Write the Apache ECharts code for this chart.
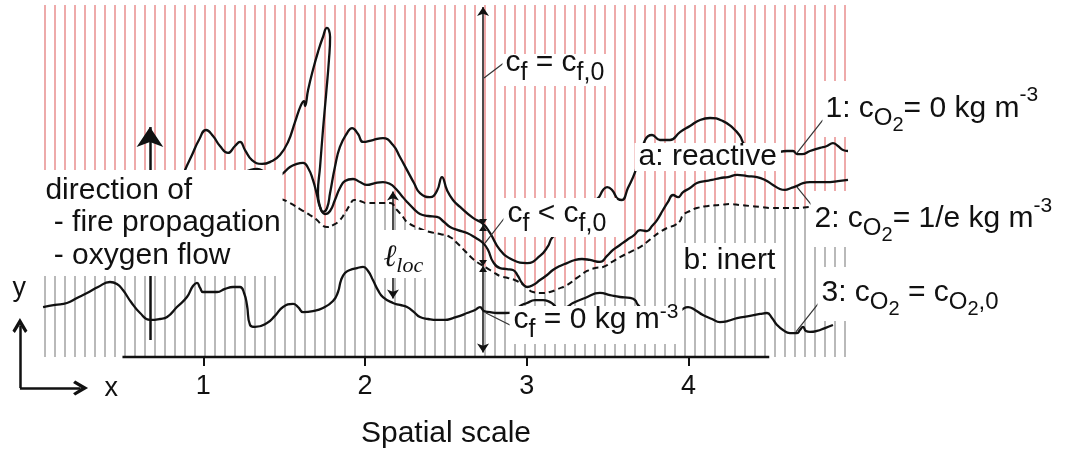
<!DOCTYPE html>
<html><head><meta charset="utf-8">
<script src="https://cdn.jsdelivr.net/npm/echarts@6/dist/echarts.min.js"></script>
<style>html,body{margin:0;padding:0;background:#fff}#c{width:1075px;height:454px}</style>
</head><body><div id="c"></div>
<script>
// ---------- data: x in spatial-scale units, y = height above the base line (same units) ----------
const xTicks = [1, 2, 3, 4];

// 1: c_O2 = 0 kg m-3 (upper, reactive front)
const frontReactive = [
[0.844,1.033],[0.887,1.156],[0.930,1.249],[0.973,1.342],[1.017,1.404],[1.060,1.367],[1.103,1.305],[1.153,1.262],[1.196,1.305],[1.227,1.330],[1.258,1.280],[1.301,1.218],[1.363,1.194],[1.425,1.212],[1.474,1.249],[1.524,1.330],[1.567,1.453],[1.604,1.558],[1.623,1.583],[1.629,1.552],[1.648,1.651],[1.678,1.775],[1.709,1.886],[1.740,1.979],[1.765,2.035],[1.777,2.022],[1.784,1.979],[1.777,1.837],[1.759,1.620],[1.740,1.404],[1.722,1.175],[1.709,1.014],[1.722,0.928],[1.740,0.897],[1.765,0.921],[1.784,1.014],[1.814,1.175],[1.845,1.299],[1.889,1.385],[1.920,1.416],[1.957,1.379],[1.988,1.330],[2.049,1.342],[2.111,1.354],[2.173,1.311],[2.216,1.237],[2.260,1.156],[2.303,1.076],[2.340,1.014],[2.402,0.989],[2.445,1.027],[2.476,1.113],[2.507,1.033],[2.544,0.971],[2.588,0.928],[2.668,0.860],[2.730,0.823],[2.773,0.767],[2.835,0.662],[2.915,0.600],[3.002,0.581],[3.082,0.625],[3.132,0.686],[3.156,0.736],[3.299,0.878],[3.441,0.983],[3.472,1.033],[3.497,1.051],[3.528,1.033],[3.565,0.977],[3.589,0.971],[3.626,1.045],[3.670,1.144],[3.732,1.342],[3.775,1.373],[3.824,1.342],[3.886,1.342],[3.948,1.391],[4.010,1.429],[4.072,1.466],[4.134,1.478],[4.214,1.459],[4.276,1.416],[4.319,1.367],[4.350,1.311],[4.443,1.268],[4.523,1.249],[4.566,1.268],[4.610,1.274],[4.647,1.274],[4.672,1.255],[4.703,1.255],[4.752,1.274],[4.814,1.293],[4.857,1.305],[4.894,1.323],[4.925,1.305],[4.956,1.280],[4.987,1.274]
];

// 2: c_O2 = 1/e kg m-3 (middle front)
const frontHalf = [
[1.227,1.132],[1.289,1.156],[1.332,1.163],[1.382,1.144],[1.443,1.113],[1.487,1.132],[1.536,1.175],[1.579,1.194],[1.617,1.200],[1.648,1.169],[1.678,1.095],[1.703,1.002],[1.722,0.928],[1.753,0.884],[1.784,0.903],[1.814,0.971],[1.845,1.045],[1.876,1.088],[1.926,1.101],[1.969,1.082],[2.012,1.064],[2.062,1.076],[2.111,1.082],[2.155,1.070],[2.186,1.045],[2.223,1.002],[2.260,0.959],[2.303,0.915],[2.340,0.884],[2.390,0.872],[2.445,0.866],[2.489,0.835],[2.526,0.804],[2.575,0.785],[2.631,0.767],[2.686,0.736],[2.730,0.705],[2.761,0.662],[2.792,0.588],[2.835,0.550],[2.878,0.544],[2.915,0.538],[2.946,0.501],[2.971,0.458],[3.002,0.433],[3.039,0.445],[3.082,0.476],[3.126,0.507],[3.162,0.538],[3.206,0.563],[3.249,0.581],[3.299,0.600],[3.342,0.606],[3.391,0.600],[3.453,0.588],[3.497,0.625],[3.534,0.662],[3.577,0.693],[3.620,0.724],[3.664,0.754],[3.701,0.785],[3.744,0.779],[3.775,0.810],[3.806,0.847],[3.843,0.909],[3.874,0.959],[3.905,1.002],[3.936,0.989],[3.967,1.020],[4.010,1.045],[4.053,1.076],[4.103,1.088],[4.146,1.095],[4.195,1.107],[4.245,1.113],[4.301,1.126],[4.363,1.119],[4.424,1.113],[4.474,1.095],[4.523,1.064],[4.566,1.039],[4.597,1.033],[4.635,1.045],[4.672,1.058],[4.709,1.076],[4.752,1.082],[4.814,1.082],[4.876,1.082],[4.925,1.088],[4.987,1.095]
];

// dashed boundary between a: reactive (above) and b: inert (below)
const reactiveInertBoundary = [
[0.015,0.798],[0.670,0.835],[1.165,0.940],[1.382,0.983],[1.474,0.977],[1.536,0.952],[1.598,0.915],[1.660,0.878],[1.703,0.847],[1.734,0.816],[1.765,0.804],[1.802,0.816],[1.845,0.847],[1.876,0.891],[1.907,0.940],[1.932,0.971],[1.969,0.965],[2.012,0.952],[2.093,0.952],[2.155,0.952],[2.198,0.909],[2.235,0.866],[2.260,0.835],[2.328,0.798],[2.402,0.773],[2.464,0.761],[2.526,0.742],[2.569,0.705],[2.618,0.656],[2.668,0.606],[2.711,0.575],[2.754,0.550],[2.792,0.526],[2.835,0.501],[2.884,0.489],[2.940,0.470],[2.990,0.439],[3.039,0.402],[3.095,0.396],[3.144,0.402],[3.194,0.421],[3.249,0.445],[3.311,0.489],[3.373,0.532],[3.422,0.550],[3.472,0.557],[3.528,0.588],[3.577,0.618],[3.639,0.649],[3.701,0.680],[3.744,0.711],[3.781,0.742],[3.824,0.773],[3.868,0.798],[3.917,0.816],[3.948,0.841],[3.967,0.878],[4.010,0.903],[4.053,0.921],[4.121,0.934],[4.195,0.940],[4.257,0.946],[4.319,0.940],[4.381,0.934],[4.443,0.928],[4.517,0.921],[4.585,0.921],[4.659,0.921],[4.752,0.928],[4.845,0.934],[4.981,0.940]
];

// 3: c_O2 = c_O2,0 (lower front, c_f = 0)
const frontInert = [
[0.009,0.309],[0.083,0.322],[0.157,0.334],[0.219,0.365],[0.281,0.396],[0.349,0.433],[0.423,0.464],[0.466,0.451],[0.503,0.414],[0.553,0.340],[0.609,0.272],[0.670,0.229],[0.732,0.235],[0.776,0.247],[0.837,0.309],[0.899,0.371],[0.936,0.439],[0.961,0.458],[0.980,0.427],[0.998,0.402],[1.041,0.402],[1.085,0.402],[1.134,0.421],[1.184,0.433],[1.227,0.433],[1.252,0.396],[1.270,0.322],[1.289,0.198],[1.320,0.186],[1.394,0.210],[1.443,0.254],[1.493,0.309],[1.555,0.328],[1.586,0.309],[1.617,0.278],[1.678,0.284],[1.740,0.303],[1.802,0.346],[1.833,0.402],[1.852,0.476],[1.876,0.519],[1.907,0.538],[1.951,0.550],[1.988,0.557],[2.019,0.532],[2.049,0.476],[2.080,0.414],[2.111,0.371],[2.173,0.334],[2.216,0.322],[2.260,0.309],[2.303,0.278],[2.340,0.247],[2.390,0.235],[2.445,0.229],[2.495,0.229],[2.544,0.241],[2.588,0.254],[2.631,0.272],[2.680,0.291],[2.711,0.309],[2.736,0.284],[2.773,0.278],[2.816,0.272],[2.866,0.272],[2.915,0.278],[2.959,0.315],[3.002,0.334],[3.051,0.352],[3.101,0.352],[3.132,0.346],[3.162,0.328],[3.206,0.291],[3.249,0.309],[3.286,0.334],[3.361,0.365],[3.453,0.396],[3.515,0.383],[3.577,0.371],[3.639,0.365],[3.670,0.352],[3.688,0.322],[3.763,0.260],[3.886,0.241],[3.998,0.309],[4.041,0.291],[4.090,0.260],[4.146,0.235],[4.195,0.216],[4.245,0.223],[4.301,0.241],[4.381,0.254],[4.443,0.266],[4.486,0.272],[4.517,0.241],[4.548,0.198],[4.585,0.167],[4.628,0.148],[4.672,0.148],[4.690,0.167],[4.709,0.186],[4.727,0.161],[4.752,0.155],[4.795,0.161],[4.845,0.179],[4.894,0.198]
];

// hatched domain (top edge) and the spatial base line
const hatchTop = [[0.015,2.177],[4.981,2.177]];
const baseLine = [[0.5,0],[4.5,0]];

// arrows and leader lines (segments)
const boldArrows = [[[0.670,0.105],[0.670,1.422]]];
const axisGlyph = [[[-0.134,-0.192],[-0.134,0.195]],[[-0.134,-0.192],[0.241,-0.192]]];
const cfArrow = [[[2.730,0.028],[2.730,2.164]]];
const locArrows = [[[2.173,0.785],[2.173,1.023]],[[2.173,0.489],[2.173,0.362]]];
const leaders = [
  [[2.736,1.725],[2.866,1.824]],
  [[2.742,0.705],[2.872,0.872]],
  [[2.748,0.272],[2.909,0.192]],
  [[4.672,1.262],[4.832,1.466]],
  [[4.672,1.051],[4.801,0.891]],
  [[4.665,0.155],[4.820,0.352]]
];
const cfMarks = [[2.730,0.816],[2.730,0.563]];

// text
const labelTexts = {
  dir: 'direction of\n - fire propagation\n - oxygen flow',
  cf0: '{m|c}{s|f}{m| = c}{s|f,0}',
  cflt: '{m|c}{s|f}{m| < c}{s|f,0}',
  cfz: '{m|c}{s|f}{m| = 0 kg m}{p|-3}',
  react: 'a: reactive',
  inert: 'b: inert',
  loc: '{l|ℓ}{q|loc}',
  o1: '{m|1: c}{o|O}{t|2}{m|= 0 kg m}{p|-3}',
  o2: '{m|2: c}{o|O}{t|2}{m|= 1/e kg m}{p|-3}',
  o3: '{m|3: c}{o|O}{t|2}{m| = c}{o|O}{t|2}{o|,0}',
  x: 'x',
  y: 'y'
};
const axisTitle = 'Spatial scale';

// ---------- layout ----------
const labelLayout = [
  {key:'dir', at:[0.002,0.829], fs:30, lh:32.5, pad:[2.5,2,6,3]},
  {key:'cf0', at:[2.847,1.775], h:32, base:18, pad:[0,8,0,3]},
  {key:'cflt', at:[2.853,0.863], h:39, base:25, pad:[0,10,0,4]},
  {key:'cfz', at:[2.891,0.198], h:38, base:23, sup:-10, pad:[0,4,0,4]},
  {key:'react', at:[3.664,1.237], fs:30, lh:28, pad:[0,4,0,4]},
  {key:'inert', at:[3.942,0.597], fs:30, lh:30, pad:[5,4,0,4]},
  {key:'loc', at:[2.080,0.637], h:48, base:37, pad:[0,4,0,5]},
  {key:'o1', at:[4.826,1.534], h:56, base:37, pad:[0,4,0,3]},
  {key:'o2', at:[4.752,0.853], h:56, base:37, pad:[0,4,0,4]},
  {key:'o3', at:[4.795,0.390], h:54, base:35, pad:[0,4,0,4]},
  {key:'x', at:[0.386,-0.198], fs:27, lh:27, bg:false},
  {key:'y', at:[-0.183,0.421], fs:27, lh:27, bg:false}
];

const FONT = "'Liberation Sans', Arial, Helvetica, sans-serif";
const SERIF = "'Liberation Serif', 'DejaVu Serif', serif";
const INK = '#111';

function hatch(color) {
  const c = document.createElement('canvas');
  c.width = 10; c.height = 10;
  const g = c.getContext('2d');
  g.fillStyle = '#fff'; g.fillRect(0, 0, 10, 10);
  g.fillStyle = color; g.fillRect(4, 0, 2, 10);
  return {image: c, repeat: 'repeat'};
}
function tok(size, shift, H, B, extra) {
  const inner = Math.round(size * 0.6);
  const top = Math.max(0, B + shift - 0.61 * size);
  const bottom = Math.max(0, H - top - inner);
  return Object.assign({fontSize: size, height: inner, padding: [top, 0, bottom, 0],
    fontFamily: FONT, color: INK}, extra || {});
}
function richFor(H, B, sup) {
  return {
    m: tok(30, 0, H, B),
    s: tok(25, 9, H, B),
    o: tok(24, 8, H, B),
    t: tok(20, 14, H, B),
    p: tok(21, sup, H, B),
    l: tok(31, 0, H, B, {fontFamily: SERIF, fontStyle: 'italic'}),
    q: tok(22, 6, H, B, {fontFamily: SERIF, fontStyle: 'italic'})
  };
}
const labelData = labelLayout.map(L => {
  const label = {show: true, position: 'right', distance: 0, formatter: labelTexts[L.key],
    color: INK, opacity: 1, fontFamily: FONT, padding: L.pad || 0};
  if (L.bg !== false) label.backgroundColor = '#fff';
  if (L.h) label.rich = richFor(L.h, L.base, L.sup || -16);
  else { label.fontSize = L.fs; label.lineHeight = L.lh; }
  return {value: L.at, label};
});

const segs = arr => arr.map(s => ({coords: s}));
const chevron = 'path://M5,0 L10,8 L8.4,9.3 L5,4.2 L1.6,9.3 L0,8 Z';
const curveStyle = {color: INK, width: 2.3};
const SMOOTH = 0.5;

const chart = echarts.init(document.getElementById('c'), null, {renderer: 'canvas'});
chart.setOption({
  animation: false,
  backgroundColor: '#fff',
  textStyle: {fontFamily: FONT},
  grid: {left: 0, right: 0, top: 5, bottom: 97, containLabel: false, outerBoundsMode: 'none'},
  xAxis: {
    type: 'value', min: -0.2573, max: 6.3909,
    name: axisTitle, nameLocation: 'middle', nameGap: 62,
    nameTextStyle: {fontSize: 30, color: INK, fontFamily: FONT, padding: [0, 183, 0, 0]},
    axisLine: {show: false},
    axisTick: {show: true, customValues: xTicks, length: 9, lineStyle: {color: INK, width: 2}},
    axisLabel: {show: true, customValues: xTicks, fontSize: 27, color: INK, margin: 16, fontFamily: FONT},
    splitLine: {show: false}
  },
  yAxis: {type: 'value', min: 0, max: 2.177, show: false},
  series: [
    {type: 'line', z: 1, data: hatchTop, showSymbol: false, silent: true,
     lineStyle: {width: 0, opacity: 0},
     areaStyle: {color: hatch('#b9b9b9'), opacity: 1, origin: 'start'}},
    {type: 'line', z: 2, data: reactiveInertBoundary, showSymbol: false, smooth: SMOOTH, silent: true,
     lineStyle: {color: INK, width: 2, type: [6, 4]},
     areaStyle: {color: hatch('#eeaaaa'), opacity: 1, origin: 'end'}},
    {type: 'line', z: 3, data: frontReactive, showSymbol: false, smooth: SMOOTH, lineStyle: curveStyle},
    {type: 'line', z: 3, data: frontHalf, showSymbol: false, smooth: SMOOTH, lineStyle: curveStyle},
    {type: 'line', z: 3, data: frontInert, showSymbol: false, smooth: SMOOTH, lineStyle: curveStyle},
    {type: 'line', z: 3, data: baseLine, showSymbol: false, clip: false, lineStyle: {color: INK, width: 2.5}},
    {type: 'lines', coordinateSystem: 'cartesian2d', z: 4, clip: false, data: segs(boldArrows),
     symbol: ['none', 'arrow'], symbolSize: 20, lineStyle: {color: INK, width: 2.5, opacity: 1}},
    {type: 'lines', coordinateSystem: 'cartesian2d', z: 4, clip: false, data: segs(axisGlyph),
     symbol: ['none', chevron], symbolSize: 15, lineStyle: {color: INK, width: 2.5, opacity: 1},
     itemStyle: {color: INK}},
    {type: 'lines', coordinateSystem: 'cartesian2d', z: 4, clip: false, data: segs(cfArrow),
     symbol: ['arrow', 'arrow'], symbolSize: 9, lineStyle: {color: INK, width: 1.5, opacity: 1}},
    {type: 'lines', coordinateSystem: 'cartesian2d', z: 4, clip: false, data: segs(locArrows),
     symbol: ['none', 'arrow'], symbolSize: 9, lineStyle: {color: INK, width: 1.5, opacity: 1}},
    {type: 'lines', coordinateSystem: 'cartesian2d', z: 4, clip: false, data: segs(leaders),
     symbol: ['none', 'none'], lineStyle: {color: '#333', width: 1.2, opacity: 1}},
    {type: 'scatter', z: 5, data: cfMarks, symbol: 'path://M0,0 L10,0 L5,7 L10,14 L0,14 L5,7 Z',
     symbolSize: [8, 12], itemStyle: {color: INK, opacity: 1}, silent: true},
    {type: 'scatter', z: 10, clip: false, data: labelData, symbolSize: 1,
     itemStyle: {color: 'rgba(0,0,0,0)', opacity: 1}, silent: true}
  ]
});
</script></body></html>
